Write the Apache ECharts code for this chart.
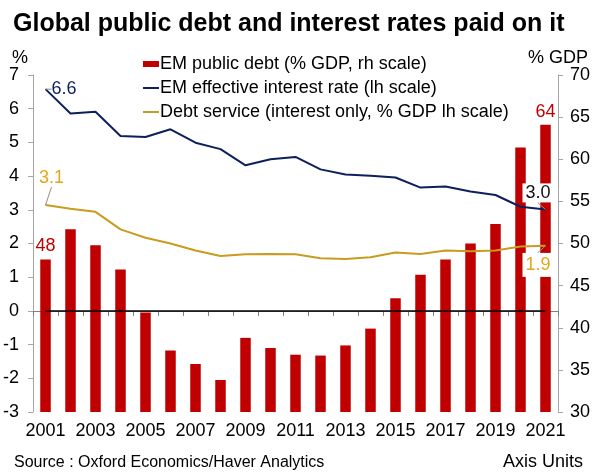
<!DOCTYPE html>
<html><head><meta charset="utf-8">
<script src="https://cdn.jsdelivr.net/npm/echarts@6/dist/echarts.min.js"></script>
<style>html,body{margin:0;padding:0;background:#fff}#c{width:595px;height:476px}</style>
</head><body><div id="c"></div>
<script>
const years = ['2001','2002','2003','2004','2005','2006','2007','2008','2009','2010','2011','2012','2013','2014','2015','2016','2017','2018','2019','2020','2021'];
const emPublicDebt = [48.1,51.7,49.8,46.9,41.8,37.3,35.7,33.8,38.8,37.6,36.8,36.7,37.9,39.9,43.5,46.3,48.1,50.0,52.3,61.4,64.1];
const emEffectiveRate = [6.58,5.86,5.91,5.19,5.16,5.39,4.99,4.80,4.32,4.50,4.57,4.20,4.05,4.01,3.96,3.66,3.69,3.54,3.44,3.09,3.01];
const debtService = [3.14,3.03,2.94,2.42,2.17,2.00,1.79,1.63,1.68,1.69,1.68,1.56,1.54,1.59,1.73,1.69,1.79,1.77,1.79,1.91,1.93];
const seriesNames = ['EM public debt (% GDP, rh scale)','EM effective interest rate (lh scale)','Debt service (interest only, % GDP lh scale)'];

const FONT = 'Liberation Sans, Arial, sans-serif';
const RED = '#C00000', NAVY = '#0D1F5C', GOLD = '#C99B1E', GOLDTXT = '#E3A71C';
const last = years.length - 1;

const barData = emPublicDebt.map((v, i) => (i === 0 || i === last) ? {
  value: v, label: {show: true, position: 'top', distance: 4, color: RED, fontSize: 18, fontFamily: FONT,
    formatter: p => Math.round(p.value)}
} : v);

const navyData = emEffectiveRate.map((v, i) => {
  if (i === 0) return {value: v, label: {show: true, position: 'right', distance: 6, color: NAVY, fontSize: 18, fontFamily: FONT, formatter: p => p.value.toFixed(1)}};
  if (i === last) return {value: v, label: {show: true, position: 'top', distance: 5, color: '#111', fontSize: 18, fontFamily: FONT,
    backgroundColor: '#fff', padding: [1, 2, 0, 3], formatter: p => p.value.toFixed(1)}};
  return v;
});
const goldData = debtService.map((v, i) => {
  if (i === 0) return {value: v, label: {show: true, position: 'top', distance: 5, color: GOLDTXT, fontSize: 18, fontFamily: FONT, formatter: p => p.value.toFixed(1)}};
  if (i === last) return {value: v, label: {show: true, position: 'bottom', distance: 5, color: GOLDTXT, fontSize: 18, fontFamily: FONT,
    backgroundColor: '#fff', padding: [3, 2, 3, 3], formatter: p => p.value.toFixed(1)}};
  return v;
});

const chart = echarts.init(document.getElementById('c'), null, {renderer: 'canvas'});
chart.setOption({
  animation: false,
  textStyle: {fontFamily: FONT},
  title: [
    {text: 'Global public debt and interest rates paid on it', left: 8, top: 7,
      textStyle: {fontSize: 25, fontWeight: 'bold', color: '#000', fontFamily: FONT}},
    {text: '%', left: 7, top: 44, textStyle: {fontSize: 18, fontWeight: 'normal', color: '#000', fontFamily: FONT}},
    {text: '% GDP', left: 523, top: 44, textStyle: {fontSize: 18, fontWeight: 'normal', color: '#000', fontFamily: FONT}},
    {text: 'Source : Oxford Economics/Haver Analytics', left: 9, top: 450, textStyle: {fontSize: 16, fontWeight: 'normal', color: '#000', fontFamily: FONT}},
    {text: 'Axis Units', right: 7, top: 448, textStyle: {fontSize: 18, fontWeight: 'normal', color: '#000', fontFamily: FONT}}
  ],
  legend: {
    orient: 'vertical', left: 137, top: 50, itemGap: 6, itemWidth: 16, itemHeight: 6,
    textStyle: {fontSize: 18, color: '#000', fontFamily: FONT, padding: [0, 0, 0, -4]},
    data: [
      {name: seriesNames[0], icon: 'rect'},
      {name: seriesNames[1], itemStyle: {opacity: 0}},
      {name: seriesNames[2], itemStyle: {opacity: 0}}
    ]
  },
  grid: {left: 32, right: 37, top: 75, bottom: 64, containLabel: false},
  xAxis: {
    type: 'category', data: years, boundaryGap: true,
    axisLine: {lineStyle: {color: '#7f7f7f', width: 1}},
    axisTick: {show: true, interval: 0, length: 5, inside: false, lineStyle: {color: '#7f7f7f'}},
    axisLabel: {interval: 1, fontSize: 18, color: '#000', margin: 10, fontFamily: FONT},
    splitLine: {show: false}
  },
  yAxis: [
    {type: 'value', min: -3, max: 7, interval: 1, position: 'left',
      axisLine: {show: true, lineStyle: {color: '#a6a6a6'}},
      axisTick: {show: true, length: 5, lineStyle: {color: '#a6a6a6'}},
      axisLabel: {fontSize: 18, color: '#000', margin: 14, fontFamily: FONT},
      splitLine: {show: false}},
    {type: 'value', min: 30, max: 70, interval: 5, position: 'right',
      axisLine: {show: true, lineStyle: {color: '#a6a6a6'}},
      axisTick: {show: true, length: 5, lineStyle: {color: '#a6a6a6'}},
      axisLabel: {fontSize: 18, color: '#000', margin: 12, fontFamily: FONT},
      splitLine: {show: false}}
  ],
  series: [
    {name: seriesNames[0], type: 'bar', yAxisIndex: 1, data: barData, barWidth: '42%',
      itemStyle: {color: RED}, z: 2},
    {name: seriesNames[1], type: 'line', yAxisIndex: 0, data: navyData,
      symbol: 'circle', symbolSize: 0.1, showSymbol: true, itemStyle: {color: NAVY},
      lineStyle: {color: NAVY, width: 2}, z: 4,
      labelLine: {show: true, lineStyle: {color: '#8c8c8c', width: 1}},
      labelLayout: p => {
        if (p.dataIndex === last) return {dx: -8, dy: -2};
        return {};
      },
      markLine: {silent: true, symbol: 'none', label: {show: false},
        lineStyle: {color: '#000', width: 1.5, type: 'solid'},
        data: [[{coord: [0, 0]}, {coord: [last, 0]}]]}
    },
    {name: seriesNames[2], type: 'line', yAxisIndex: 0, data: goldData,
      symbol: 'circle', symbolSize: 0.1, showSymbol: true, itemStyle: {color: GOLD},
      lineStyle: {color: GOLD, width: 2}, z: 4,
      labelLine: {show: true, lineStyle: {color: '#8c8c8c', width: 1}},
      labelLayout: p => {
        if (p.dataIndex === 0) return {dx: 6, dy: -13};
        if (p.dataIndex === last) return {dx: -8, dy: 2};
        return {};
      }
    }
  ]
});
</script></body></html>
